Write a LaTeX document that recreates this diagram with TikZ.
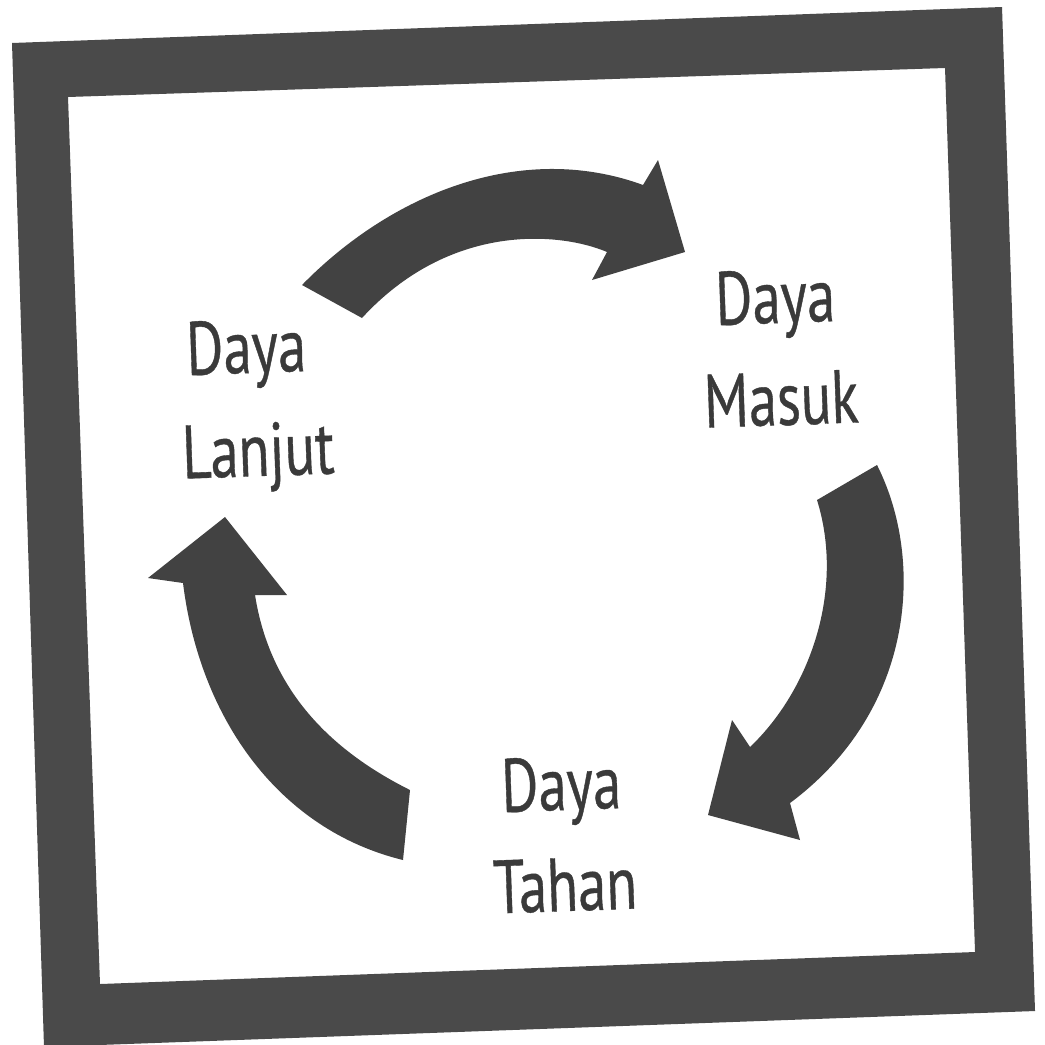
\documentclass[tikz,border=0pt]{standalone}
\usepackage{fontspec}
\setmainfont{PT Sans}[FakeStretch=0.75,FakeBold=0.5]
\definecolor{framegray}{RGB}{74,74,74}
\definecolor{arrowgray}{RGB}{66,66,66}
\definecolor{textgray}{RGB}{58,58,58}
\begin{document}
\begin{tikzpicture}[x=0.1mm,y=-0.1mm,
  lbl/.style={font=\fontsize{21.5}{26}\selectfont, text=textgray, inner sep=0pt, anchor=base, rotate=2},
  arrowfill/.style={fill=arrowgray}]
\useasboundingbox (0,0) rectangle (1045,1044);
\clip (0,0) rectangle (1045,1044);
\fill[white] (0,0) rectangle (1045,1044);
% frame
\fill[framegray, even odd rule]
  (12,43) -- (1002,7) -- (1035,1011) -- (44,1047) -- cycle
  (68,97) -- (945,68) -- (975,952) -- (100,984) -- cycle;
% top arrow
\fill[arrowfill]
  (302,285) .. controls (390,195) and (520,140) .. (643,185)
  -- (658,160) -- (685,252) -- (592,280) -- (607,252)
  .. controls (560,232) and (450,222) .. (362,318)
  -- cycle;
% right arrow
\fill[arrowfill]
  (877,465) .. controls (925,560) and (915,710) .. (790,803)
  -- (800,840) -- (708,815) -- (732,720) -- (750,747)
  .. controls (810,690) and (845,590) .. (817,500)
  -- cycle;
% left arrow
\fill[arrowfill]
  (225,517) -- (148,578) -- (183,583)
  .. controls (200,720) and (280,830) .. (403,860)
  -- (410,790)
  .. controls (330,750) and (270,690) .. (255,595)
  -- (287,595) -- cycle;
% labels
\node[lbl] (lanjutA) at (247,373) {Daya};
\node[lbl] (lanjutB) at (259,476) {Lanjut};
\node[lbl] (masukA) at (776,323) {Daya};
\node[lbl] (masukB) at (782,425) {Masuk};
\node[lbl] (tahanA) at (562,810) {Daya};
\node[lbl] (tahanB) at (566,911) {Tahan};
\end{tikzpicture}
\end{document}
